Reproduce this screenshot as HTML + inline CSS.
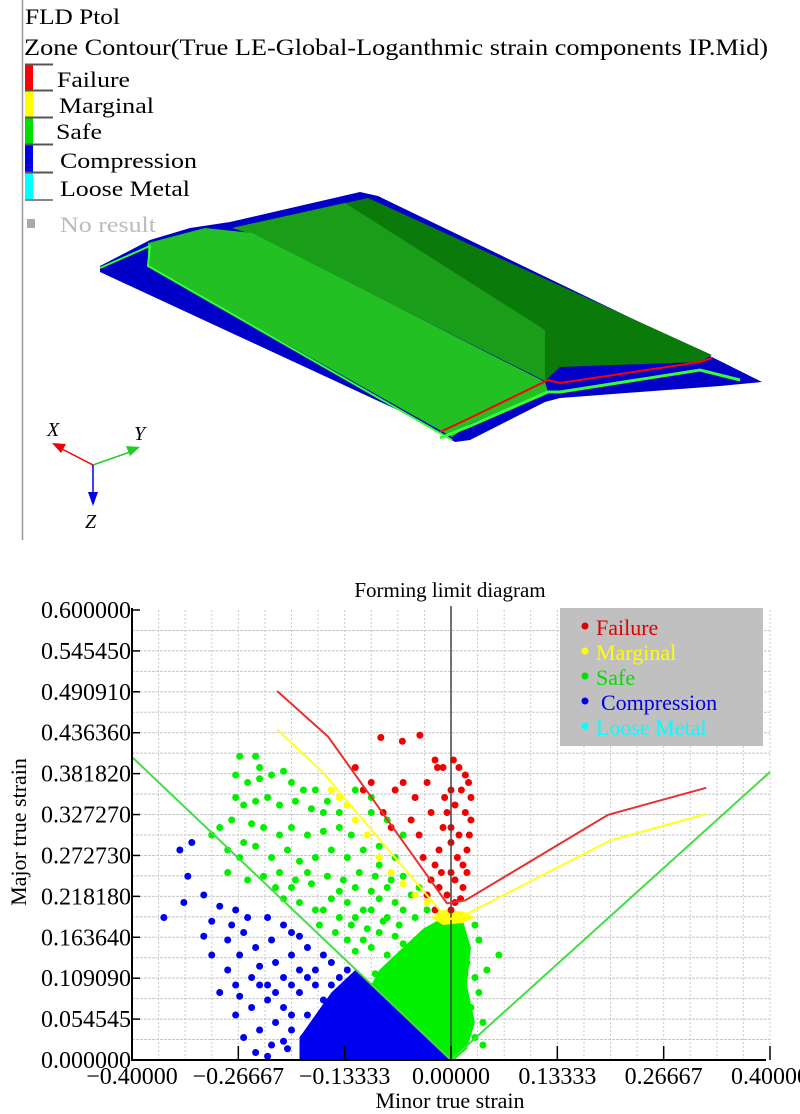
<!DOCTYPE html>
<html><head><meta charset="utf-8">
<style>
html,body{margin:0;padding:0;background:#fff;}
svg{display:block;font-family:"Liberation Serif",serif;}
</style></head>
<body>
<svg id="root" width="800" height="1114" viewBox="0 0 800 1114" xmlns="http://www.w3.org/2000/svg">
<g>
  <line x1="22.5" y1="0" x2="22.5" y2="540" stroke="#999" stroke-width="1.5"/>
  <text x="25" y="24" font-size="22" textLength="95" lengthAdjust="spacingAndGlyphs">FLD Ptol</text>
  <text x="24" y="55" font-size="23" textLength="744" lengthAdjust="spacingAndGlyphs">Zone Contour(True LE-Global-Loganthmic strain components IP.Mid)</text>
  <g>
    <rect x="25" y="64" width="8" height="26" fill="#f00"/><line x1="25" y1="64.5" x2="53" y2="64.5" stroke="#555" stroke-width="2"/>
    <rect x="25" y="90" width="8" height="27" fill="#ff0"/><line x1="25" y1="90.5" x2="53" y2="90.5" stroke="#555" stroke-width="2"/>
    <rect x="25" y="117" width="8" height="27" fill="#0d0"/><line x1="25" y1="117.5" x2="53" y2="117.5" stroke="#555" stroke-width="2"/>
    <rect x="25" y="144" width="8" height="28" fill="#00e"/><line x1="25" y1="144.5" x2="53" y2="144.5" stroke="#555" stroke-width="2"/>
    <rect x="25" y="172" width="8" height="28" fill="#0ff"/><line x1="25" y1="172.5" x2="53" y2="172.5" stroke="#555" stroke-width="2"/><line x1="25" y1="200" x2="53" y2="200" stroke="#888" stroke-width="2"/>
    <rect x="27" y="219" width="8" height="9" fill="#aaa"/>
    <text x="57" y="87" font-size="22" textLength="73" lengthAdjust="spacingAndGlyphs">Failure</text>
    <text x="59" y="113" font-size="22" textLength="95" lengthAdjust="spacingAndGlyphs">Marginal</text>
    <text x="56" y="139" font-size="22" textLength="46" lengthAdjust="spacingAndGlyphs">Safe</text>
    <text x="60" y="168" font-size="22" textLength="137" lengthAdjust="spacingAndGlyphs">Compression</text>
    <text x="60" y="196" font-size="22" textLength="130" lengthAdjust="spacingAndGlyphs">Loose Metal</text>
    <text x="60" y="232" font-size="22" fill="#bbb" textLength="96" lengthAdjust="spacingAndGlyphs">No result</text>
  </g>
  <g>
    <polygon points="100,266 150,240 190,228 230,222 360,192 378,196 718,360 762,382 720,386 560,398 545,402 470,440 455,442 415,418 100,272" fill="#0000c8"/>
    <polygon points="232,228 368,198 712,355 700,362 560,367 545,381 252,234" fill="#0a7a0a"/>
    <polygon points="232,228 345,203 545,330 545,381 252,234" fill="#1a9e1a"/>
    <polygon points="148,243 205,228 252,233 545,382 548,392 470,424 452,437 148,266" fill="#22c022"/>
    <polyline points="440,432 470,418 548,380 560,383 700,362 712,358" fill="none" stroke="#f00" stroke-width="2"/>
    <polyline points="440,438 470,426 548,392 560,392 700,370 740,380" fill="none" stroke="#3f3" stroke-width="3"/>
    <polyline points="100,268 150,246 148,266 452,440" fill="none" stroke="#3f3" stroke-width="2"/>
  </g>
  <g>
    <line x1="93" y1="465" x2="60" y2="448" stroke="#e00" stroke-width="1.5"/><polygon points="52,443 66,444 61,453" fill="#e00"/>
    <line x1="93" y1="465" x2="130" y2="452" stroke="#2c2" stroke-width="1.5"/><polygon points="140,447 126,446 130,456" fill="#2c2"/>
    <line x1="93" y1="465" x2="93" y2="495" stroke="#00e" stroke-width="1.5"/><polygon points="93,506 88,492 98,492" fill="#00e"/>
    <text x="47" y="436" font-size="20" font-style="italic">X</text>
    <text x="134" y="440" font-size="20" font-style="italic">Y</text>
    <text x="85" y="528" font-size="20" font-style="italic">Z</text>
  </g>
</g>
<g id="chart"></g>
</svg>
<script>
const xTicks=[-0.4,-0.26667,-0.13333,0,0.13333,0.26667,0.4];
const xTickLabels=["\u22120.40000","\u22120.26667","\u22120.13333","0.00000","0.13333","0.26667","0.40000"];
const yTicks=[0,0.054545,0.10909,0.16364,0.21818,0.27273,0.32727,0.38182,0.43636,0.49091,0.54545,0.6];
const yTickLabels=["0.000000","0.054545","0.109090","0.163640","0.218180","0.272730","0.327270","0.381820","0.436360","0.490910","0.545450","0.600000"];
const limitLeft=[[-0.4,0.404],[0,0]];
const limitRight=[[0,0],[0.4,0.384]];
const failureCurve=[[-0.218,0.492],[-0.154,0.431],[-0.005,0.209],[0.018,0.213],[0.197,0.327],[0.32,0.363]];
const marginalCurve=[[-0.218,0.441],[-0.162,0.385],[-0.004,0.187],[0.024,0.197],[0.2,0.293],[0.32,0.328]];
const compressionDense=[[-0.12,0.12],[-0.1,0.1],[0,0],[-0.19,0],[-0.19,0.03],[-0.17,0.06],[-0.15,0.09]];
const safeDense=[[-0.1,0.1],[-0.09,0.12],[-0.06,0.15],[-0.035,0.175],[-0.01,0.19],[0.015,0.185],[0.025,0.15],[0.02,0.1],[0.03,0.05],[0.02,0.015],[0.004,0],[0,0]];
const marginalDense=[[-0.025,0.19],[-0.01,0.18],[0.015,0.183],[0.03,0.19],[0.015,0.198],[-0.01,0.2]];
const safePoints=[[-0.265,0.405],[-0.245,0.405],[-0.27,0.38],[-0.255,0.37],[-0.24,0.375],[-0.225,0.38],[-0.21,0.385],[-0.2,0.37],[-0.185,0.36],[-0.17,0.36],[-0.27,0.35],[-0.26,0.34],[-0.245,0.345],[-0.23,0.35],[-0.215,0.34],[-0.195,0.345],[-0.175,0.335],[-0.155,0.345],[-0.29,0.31],[-0.275,0.32],[-0.25,0.315],[-0.235,0.31],[-0.215,0.3],[-0.2,0.31],[-0.18,0.3],[-0.16,0.305],[-0.14,0.31],[-0.125,0.3],[-0.28,0.28],[-0.265,0.27],[-0.245,0.285],[-0.225,0.27],[-0.205,0.28],[-0.19,0.265],[-0.17,0.27],[-0.15,0.28],[-0.13,0.27],[-0.11,0.28],[-0.09,0.285],[-0.255,0.24],[-0.235,0.245],[-0.215,0.25],[-0.195,0.24],[-0.175,0.235],[-0.155,0.245],[-0.135,0.24],[-0.115,0.25],[-0.095,0.245],[-0.075,0.24],[-0.21,0.215],[-0.19,0.21],[-0.17,0.2],[-0.15,0.215],[-0.13,0.21],[-0.11,0.2],[-0.09,0.215],[-0.07,0.21],[-0.05,0.22],[-0.165,0.18],[-0.145,0.17],[-0.125,0.18],[-0.105,0.175],[-0.085,0.185],[-0.065,0.18],[-0.045,0.19],[-0.12,0.145],[-0.1,0.15],[-0.08,0.14],[-0.06,0.155],[-0.04,0.16],[-0.095,0.115],[-0.075,0.12],[-0.055,0.11],[-0.035,0.125],[-0.07,0.085],[-0.05,0.09],[-0.03,0.08],[-0.1,0.33],[-0.08,0.32],[-0.06,0.3],[-0.12,0.36],[-0.1,0.35],[-0.26,0.29],[-0.28,0.25],[-0.3,0.3],[-0.22,0.23],[-0.2,0.23],[0.035,0.16],[0.06,0.14],[0.03,0.11],[0.025,0.07],[0.04,0.05],[0.03,0.03],[0.02,0.13],[-0.03,0.2],[-0.025,0.24],[-0.18,0.25],[-0.24,0.39],[-0.16,0.33],[-0.14,0.33],[-0.13,0.16],[-0.11,0.16],[-0.09,0.17],[-0.07,0.165],[-0.12,0.19],[-0.1,0.2],[-0.08,0.19],[-0.06,0.2],[-0.14,0.19],[-0.16,0.2],[-0.14,0.225],[-0.12,0.23],[-0.1,0.225],[-0.08,0.23],[-0.06,0.245],[-0.04,0.23],[-0.09,0.26],[-0.07,0.27],[0.035,0.09],[0.04,0.02],[0.045,0.12],[0.03,0.18]];
const compressionPoints=[[-0.36,0.19],[-0.33,0.245],[-0.34,0.28],[-0.325,0.29],[-0.335,0.21],[-0.31,0.22],[-0.29,0.205],[-0.3,0.185],[-0.27,0.2],[-0.28,0.16],[-0.26,0.17],[-0.3,0.14],[-0.28,0.12],[-0.265,0.14],[-0.245,0.15],[-0.225,0.16],[-0.2,0.17],[-0.22,0.13],[-0.2,0.14],[-0.18,0.15],[-0.16,0.14],[-0.29,0.09],[-0.27,0.1],[-0.25,0.11],[-0.23,0.1],[-0.21,0.11],[-0.19,0.12],[-0.17,0.12],[-0.15,0.13],[-0.27,0.06],[-0.25,0.07],[-0.23,0.08],[-0.21,0.07],[-0.19,0.09],[-0.17,0.1],[-0.26,0.03],[-0.24,0.04],[-0.22,0.05],[-0.2,0.04],[-0.18,0.06],[-0.16,0.08],[-0.245,0.01],[-0.225,0.02],[-0.205,0.015],[-0.185,0.03],[-0.265,0.085],[-0.24,0.125],[-0.255,0.19],[-0.275,0.18],[-0.31,0.165],[-0.23,0.19],[-0.21,0.18],[-0.19,0.165],[-0.14,0.11],[-0.12,0.1],[-0.13,0.12],[-0.15,0.1],[-0.2,0.1],[-0.18,0.11],[-0.22,0.09],[-0.24,0.1],[-0.2,0.06],[-0.17,0.04],[-0.21,0.025],[-0.23,0.005]];
const marginalPoints=[[-0.03,0.21],[-0.045,0.22],[-0.06,0.235],[-0.075,0.25],[-0.09,0.27],[-0.14,0.35],[-0.15,0.36],[-0.105,0.3],[-0.12,0.32],[-0.13,0.34]];
const failurePoints=[[-0.088,0.43],[-0.061,0.425],[-0.039,0.433],[-0.045,0.35],[-0.02,0.4],[-0.017,0.39],[-0.01,0.39],[0.003,0.4],[0.01,0.39],[0.018,0.38],[0.022,0.37],[0.025,0.35],[0.025,0.32],[0.023,0.3],[0.02,0.28],[0.02,0.25],[0.013,0.36],[0.005,0.34],[0,0.36],[-0.005,0.33],[-0.01,0.31],[-0.015,0.28],[-0.02,0.26],[-0.025,0.24],[-0.03,0.22],[0.01,0.3],[0.008,0.27],[0,0.25],[-0.005,0.22],[0.005,0.21],[0.015,0.23],[-0.04,0.3],[-0.05,0.32],[-0.035,0.27],[-0.06,0.37],[-0.03,0.37],[-0.07,0.36],[-0.075,0.31],[-0.085,0.33],[-0.1,0.37],[-0.11,0.36],[-0.12,0.39],[-0.015,0.23],[0,0.29],[0.015,0.26],[-0.025,0.33],[0.005,0.24],[0.012,0.215],[-0.012,0.25],[0.018,0.33],[-0.008,0.35],[0,0.31],[-0.02,0.2],[0,0.2]];
const legendLabels=["Failure","Marginal","Safe","Compression","Loose Metal"];
const legendColors=["#e00000","#ffff00","#00e000","#0000e0","#00ffff"];

const NS="http://www.w3.org/2000/svg";
const X0=132,X1=770,Y0=1060,Y1=610;
function sx(v){return X0+(v+0.4)/0.8*(X1-X0);}
function sy(v){return Y0-v/0.6*(Y0-Y1);}
const chart=document.getElementById('chart');
function mk(tag,attrs,parent){const e=document.createElementNS(NS,tag);for(const k in attrs)e.setAttribute(k,attrs[k]);(parent||chart).appendChild(e);return e;}
function ptsStr(a){return a.map(p=>sx(p[0]).toFixed(1)+","+sy(p[1]).toFixed(1)).join(" ");}

for(let i=0;i<=24;i++){const v=-0.4+i*0.8/24;const g=mk('line',{x1:sx(v),x2:sx(v),y1:Y1,y2:Y0,stroke:'#ccc','stroke-width':1,'stroke-dasharray':'2,2'});

}
for(let i=1;i<22;i++){const v=i*0.6/22;const g=mk('line',{x1:X0,x2:X1,y1:sy(v),y2:sy(v),stroke:'#c8c8c8','stroke-width':1,'stroke-dasharray':'3,1'});

}

const cd=mk('polygon',{points:ptsStr(compressionDense),fill:'#0000f0'});


const sd=mk('polygon',{points:ptsStr(safeDense),fill:'#00f000'});


const md=mk('polygon',{points:ptsStr(marginalDense),fill:'#ffff00'});



function dots(arr,color,name){arr.forEach(p=>{const c=mk('circle',{cx:sx(p[0]),cy:sy(p[1]),r:3.5,fill:color});

});}
dots(compressionPoints,'#0000f0','compression-point');
dots(safePoints,'#00f000','safe-point');
dots(failurePoints,'#f00000','failure-point');
dots(marginalPoints,'#ffff00','marginal-point');

const zl=mk('line',{x1:sx(0),x2:sx(0),y1:Y1-4,y2:Y0,stroke:'#444','stroke-width':1.5});



function line(a,color,name){const l=mk('polyline',{points:ptsStr(a),fill:'none',stroke:color,'stroke-width':2});

}
line(limitLeft,'#44dd44','compression-limit-line');
line(limitRight,'#44dd44','loose-metal-limit-line');
line(failureCurve,'#e83030','forming-limit-curve');
line(marginalCurve,'#ffff22','marginal-limit-curve');

const ax=mk('path',{d:`M${X0},${Y1-2}V${Y0}H${X1-4}`,fill:'none',stroke:'#000','stroke-width':2});


xTicks.forEach((v,i)=>{mk('line',{x1:sx(v),x2:sx(v),y1:Y0,y2:Y0-14,stroke:'#000','stroke-width':1.5});
const t=mk('text',{x:sx(v),y:Y0+24,'font-size':24,'text-anchor':'middle'});t.textContent=xTickLabels[i];

});
yTicks.forEach((v,i)=>{mk('line',{x1:X0,x2:X0+8,y1:sy(v),y2:sy(v),stroke:'#000','stroke-width':1.5});
const t=mk('text',{x:X0-1,y:sy(v)+8,'font-size':24,'text-anchor':'end'});t.textContent=yTickLabels[i];

});

const tt=mk('text',{x:450,y:597,'font-size':21,'text-anchor':'middle'});tt.textContent='Forming limit diagram';


const xt=mk('text',{x:450,y:1108,'font-size':22,'text-anchor':'middle'});xt.textContent='Minor true strain';


const yt=mk('text',{x:0,y:0,'font-size':22,'text-anchor':'middle',transform:'translate(26,832) rotate(-90)'});yt.textContent='Major true strain';



const lg=mk('g',{});


mk('rect',{x:560,y:608,width:203,height:138,fill:'#c0c0c0'},lg);
legendLabels.forEach((s,i)=>{const y=628+i*25;
mk('circle',{cx:585,cy:y-2,r:3.5,fill:legendColors[i]},lg);
const t=mk('text',{x:i===3?601:596,y:y+7,'font-size':22,fill:legendColors[i]},lg);t.textContent=s;

});
</script>
</body></html>
